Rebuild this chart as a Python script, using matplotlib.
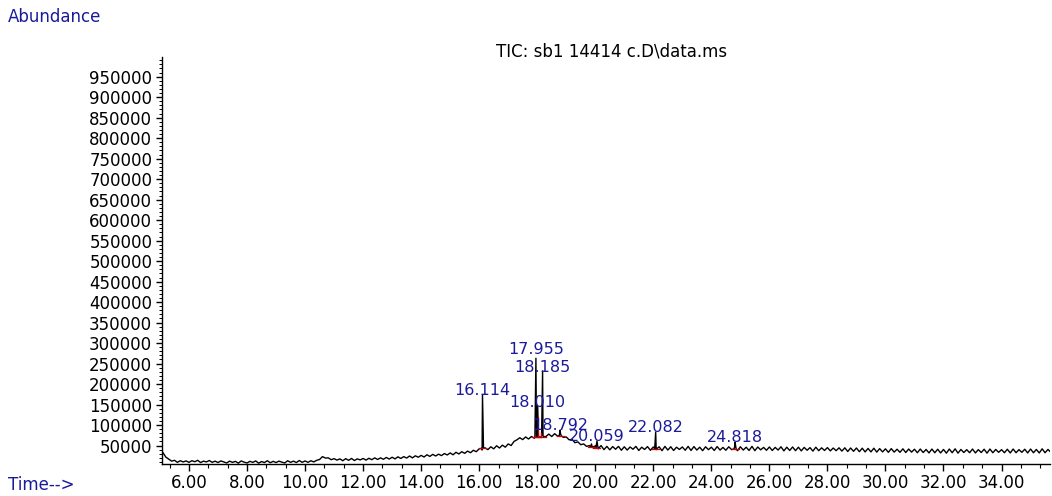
import numpy as np
import matplotlib
matplotlib.use("Agg")
import matplotlib.pyplot as plt
from matplotlib.ticker import FixedLocator, MultipleLocator
from matplotlib.transforms import offset_copy

# ---- data (abundance in thousands) ----
scan_rt = np.arange(51, 358) / 10.0  # 5.1 ... 35.7 min, one value per 0.1 min
tic_k = [
    33, 22, 17, 12, 14, 9, 13, 10, 12.5,
    9, 13, 10.5, 14, 8.5, 12, 10, 13.5, 9, 12,
    8.5, 12.5, 10, 7.5, 12, 9, 11.5, 7, 12.5, 9.5,
    7.5, 11.5, 9, 12.5, 7, 11, 8.5, 13, 8, 11.5,
    8.5, 12, 9.5, 7.5, 13, 9, 12, 8.5, 13.5, 9,
    12.5, 9, 13, 10, 14, 16, 23, 19.5, 20, 15.5,
    18, 14.5, 17.5, 13, 18, 14, 18.5, 13.5, 17.5, 15,
    18.5, 14.5, 19, 15.5, 20, 16, 20, 16.5, 21, 17,
    21.5, 17.5, 22.5, 18.5, 23, 19.5, 24.5, 20, 25, 21.5,
    26, 22, 27.5, 23.5, 28.5, 24.5, 29, 25.5, 30.5, 27,
    32, 27.5, 33.5, 29.5, 35, 31, 36.5, 32.5, 38.5, 35,
    42, 39, 44.5, 40, 47, 42, 49.5, 44, 51, 46,
    54, 50, 60, 64, 69, 64.5, 71, 66, 72, 68,
    76, 70, 74, 72, 78, 72, 79, 73, 80, 70,
    71, 64, 65, 57, 59, 52, 54, 48, 50, 45,
    49, 42, 50, 40, 48, 39.5, 47.5, 41, 48, 38.5,
    47, 39, 46.5, 41, 48, 38, 46, 40.5, 47.5, 38.5,
    46.5, 40, 47, 37.5, 48, 39, 47, 38, 46, 40.5,
    46.5, 38.5, 48, 38, 47.5, 39, 46, 37.5, 47, 40,
    46, 38, 47.5, 39, 45.5, 38.5, 47, 40, 46.5, 37.5,
    47, 39, 46, 38, 48, 37.5, 46.5, 39.5, 45.5, 38.5,
    46.5, 38, 45.5, 39, 47, 37, 46, 38, 46.5, 37.5,
    46, 37, 45.5, 38.5, 45, 36.5, 46, 37.5, 44.5, 38,
    45, 37, 44, 37.5, 44.5, 36.5, 44.5, 35.5, 44, 36,
    44, 35, 43.5, 34.5, 43, 34.5, 43.5, 34, 42.5, 34.5,
    42, 33.5, 42.5, 34, 41, 33.5, 42, 33, 41.5, 34,
    41, 32.5, 41.5, 33, 40.5, 32, 41.5, 32.5, 41, 32,
    40.5, 31.5, 41.5, 32.5, 42, 31.5, 40.5, 33, 40, 32.5,
    41.5, 32, 40, 33, 41, 31.5, 41.5, 32.5, 40.5, 33.5,
    40, 32.5, 41, 32, 41.5, 32.5, 40, 33.5, 41, 32,
    41.5, 32.5, 40.5, 32, 42, 32.5, 40.5, 33.5,
]

peak_rt = [16.114, 17.955, 18.010, 18.185, 18.792, 19.87, 20.059, 22.082, 24.818]
peak_apex_k = [174, 263, 145, 232, 88, 54, 61, 83, 58]
peak_foot_k = [43, 70, 72, 72, 74, 46, 45, 42, 42]
peak_labels = ["16.114", "17.955", "18.010", "18.185", "18.792", "", "20.059", "22.082", "24.818"]

y_ticks = [50000, 100000, 150000, 200000, 250000, 300000, 350000, 400000, 450000,
           500000, 550000, 600000, 650000, 700000, 750000, 800000, 850000, 900000, 950000]
x_ticks = [6, 8, 10, 12, 14, 16, 18, 20, 22, 24, 26, 28, 30, 32, 34]

title_text = "TIC: sb1 14414 c.D\\data.ms"

# ---- build trace: scans plus peak spikes ----
t_all = list(scan_rt)
v_all = list(np.array(tic_k) * 1000)
for rt, ap, ft in zip(peak_rt, peak_apex_k, peak_foot_k):
    t_all += [rt - 0.035, rt, rt + 0.035]
    v_all += [ft * 1000, ap * 1000, ft * 1000]
order = np.argsort(t_all, kind="stable")
t_all = np.array(t_all)[order]
v_all = np.array(v_all)[order]

NAVY = "#1a1a9a"
FS = 12
PFS = 11.5

fig = plt.figure(figsize=(10.52, 4.96), dpi=100)
W, H = 1052, 496
ax = fig.add_axes([162 / W, (H - 464) / H, (1050 - 162) / W, (464 - 57) / H])

ax.plot(t_all, v_all, color="black", lw=1.0)

# integration marks (red)
for rt, ft in zip(peak_rt, peak_foot_k):
    ax.plot([rt - 0.12, rt + 0.12], [ft * 1000, ft * 1000], color="#cc0000", lw=0.9)
ax.plot([18.01, 18.01], [72000, 120000], color="#cc0000", lw=0.9)
ax.plot([18.12, 18.12], [72000, 80000], color="#cc0000", lw=0.9)

# small vertical nudges (pixels) so stacked labels do not collide
label_dy = {"17.955": 4, "18.185": -1}
for rt, ap, lab in zip(peak_rt, peak_apex_k, peak_labels):
    if lab:
        tr = offset_copy(ax.transData, fig=fig, x=0, y=label_dy.get(lab, 0) * 0.72, units="points")
        ax.text(rt, ap * 1000, lab, ha="center", va="baseline", color=NAVY,
                fontsize=PFS, transform=tr)

ax.set_xlim(5.07, 35.67)
ax.set_ylim(5000, 998000)

for s in ("top", "right"):
    ax.spines[s].set_visible(False)
for s in ("left", "bottom"):
    ax.spines[s].set_linewidth(1.0)

ax.yaxis.set_major_locator(FixedLocator(y_ticks))
ax.set_yticklabels([str(v) for v in y_ticks])
ax.yaxis.set_minor_locator(MultipleLocator(10000))
ax.xaxis.set_major_locator(FixedLocator(x_ticks))
ax.set_xticklabels(["%.2f" % v for v in x_ticks])
ax.xaxis.set_minor_locator(MultipleLocator(2 / 3))

ax.tick_params(axis="y", which="major", length=4, width=1, pad=3, labelsize=FS)
ax.tick_params(axis="y", which="minor", length=2, width=0.7)
ax.tick_params(axis="x", which="major", length=5, width=1, pad=2, labelsize=FS)
ax.tick_params(axis="x", which="minor", length=3, width=0.8)

fig.text(8 / W, 1 - 17 / H, "Abundance", color=NAVY, fontsize=FS, ha="left", va="center")
fig.text(8 / W, 1 - 485 / H, "Time-->", color=NAVY, fontsize=FS, ha="left", va="center")
fig.text(612 / W, 1 - 51 / H, title_text, color="black", fontsize=FS, ha="center", va="center")

fig.savefig("out.png", dpi=100)
